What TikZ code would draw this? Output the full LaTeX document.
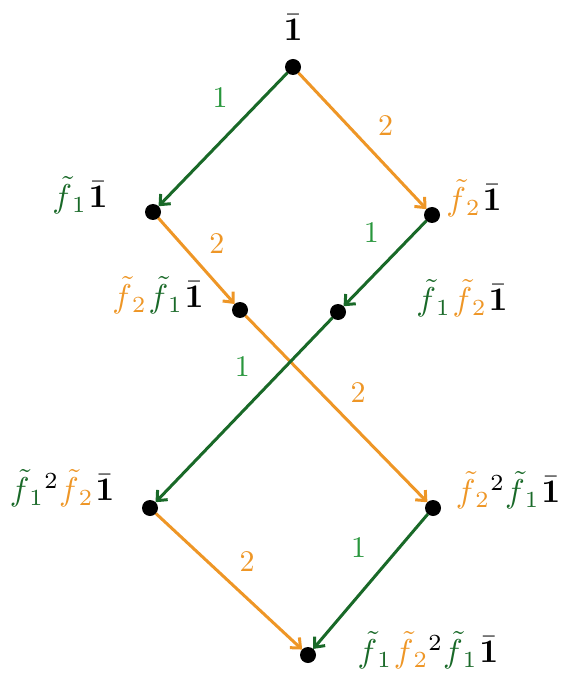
\documentclass[tikz,border=0pt]{standalone}
\usepackage{amsmath}
\usetikzlibrary{arrows.meta, positioning}
\definecolor{fgreen}{RGB}{25,105,40}
\definecolor{fgreenlbl}{RGB}{40,150,60}
\definecolor{forange}{RGB}{238,150,38}
% crystal operators, coloured by index
\newcommand{\fone}[1][]{{\color{fgreen}\tilde f}_{\color{fgreen}1}^{#1}}
\newcommand{\ftwo}[1][]{{\color{forange}\tilde f}_{\color{forange}2}^{#1}}
\newcommand{\hw}{\bar{\mathbf{1}}}
\tikzset{%
   dot/.style={
      circle,
      inner sep=0pt,
      outer sep=0pt,
      minimum size=16pt,
      fill=black
   },
   lbl/.style={
      inner sep=0pt,
      scale=3.3
   },
   op1/.style={
      draw=fgreen,
      line width=3pt,
      -{Straight Barb[length=8pt, width=14pt]}
   },
   op2/.style={
      draw=forange,
      line width=3pt,
      -{Straight Barb[length=8pt, width=14pt]}
   },
   num1/.style={
      text=fgreenlbl,
      inner sep=3pt,
      scale=3
   },
   num2/.style={
      text=forange,
      inner sep=2pt,
      scale=3
   },
}

\begin{document}
\begin{tikzpicture}[x=1pt, y=-1pt]
   \useasboundingbox (0,0) rectangle (564,692);
   % vertices
   \node[dot] (top) at (293,67) {};
   \node[dot] (a)   at (153,212) {};
   \node[dot] (b)   at (432,215) {};
   \node[dot] (ab)  at (240,310) {};
   \node[dot] (ba)  at (338,312) {};
   \node[dot] (aab) at (150,508) {};
   \node[dot] (bba) at (433,508) {};
   \node[dot] (bot) at (308,655) {};
   % vertex labels
   \node[lbl] (l-top) at (293,28)  {$\hw$};
   \node[lbl] (l-a)   at (80,195)  {$\fone\hw$};
   \node[lbl] (l-b)   at (474,198) {$\ftwo\hw$};
   \node[lbl] (l-ab)  at (158,295) {$\ftwo\fone\hw$};
   \node[lbl] (l-ba)  at (462,298) {$\fone\ftwo\hw$};
   \node[lbl] (l-aab) at (62,488)  {$\fone[2]\ftwo\hw$};
   \node[lbl] (l-bba) at (508,490) {$\ftwo[2]\fone\hw$};
   \node[lbl] (l-bot) at (428,650) {$\fone\ftwo[2]\fone\hw$};
   % edges
   \draw[op1] (top) -- node[num1, pos=.36, above left] {1} (a);
   \draw[op2] (top) -- node[num2, pos=.54, above right] {2} (b);
   \draw[op2] (a) -- node[num2, pos=.53, above right] {2} (ab);
   \draw[op1] (b) -- node[num1, pos=.41, above left] {1} (ba);
   \draw[op2] (ab) -- node[num2, pos=.52, above right] {2} (bba);
   \draw[op1] (ba) -- node[num1, pos=.39, above left] {1} (aab);
   \draw[op2] (aab) -- node[num2, pos=.50, above right] {2} (bot);
   \draw[op1] (bba) -- node[num1, pos=.42, above left] {1} (bot);
\end{tikzpicture}
\end{document}
